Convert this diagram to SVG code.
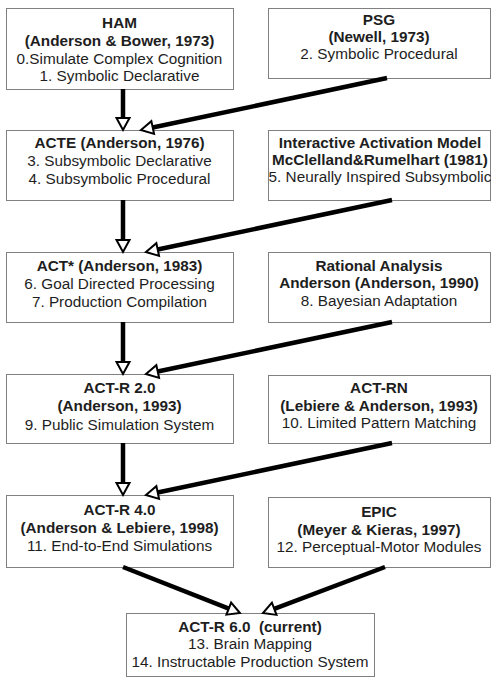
<svg xmlns="http://www.w3.org/2000/svg" width="491" height="678" viewBox="0 0 491 678">
<style>
.box{fill:#fff;stroke:#808080;stroke-width:1}
text{font-family:"Liberation Sans",Arial,sans-serif;font-size:15.3px;fill:#1e1e1e;text-anchor:middle}
.b{font-weight:bold}
.c{fill:none;stroke:#000;stroke-width:4.5}
</style>
<defs>
<marker id="ah" markerUnits="userSpaceOnUse" viewBox="-1 -8 15 16" markerWidth="15" markerHeight="16" refX="0" refY="0" orient="auto" overflow="visible">
<path d="M0,-6.5 L12,0 L0,6.5 Z" fill="#fff" stroke="#000" stroke-width="2" stroke-linejoin="miter"/>
</marker>
</defs>
<rect width="491" height="678" fill="#fff"/>
<g id="ham"><rect class="box" x="6.5" y="8.5" width="227" height="81"/>
<text x="119.5" y="28" class="b">HAM</text><text x="119.5" y="46" class="b">(Anderson &amp; Bower, 1973)</text><text x="119.5" y="64">0.Simulate Complex Cognition</text><text x="119.5" y="81">1. Symbolic Declarative</text></g>
<g id="psg"><rect class="box" x="268.5" y="8.5" width="222" height="70"/>
<text x="379" y="25" class="b">PSG</text><text x="379" y="42" class="b">(Newell, 1973)</text><text x="379" y="59">2. Symbolic Procedural</text></g>
<g id="acte"><rect class="box" x="6.5" y="130.5" width="227" height="70"/>
<text x="119.5" y="148" class="b">ACTE (Anderson, 1976)</text><text x="119.5" y="166">3. Subsymbolic Declarative</text><text x="119.5" y="184">4. Subsymbolic Procedural</text></g>
<g id="iam"><rect class="box" x="268.5" y="130.5" width="222" height="70"/>
<text x="380" y="148" class="b">Interactive Activation Model</text><text x="380" y="165" class="b">McClelland&amp;Rumelhart (1981)</text><text x="380" y="182">5. Neurally Inspired Subsymbolic</text></g>
<g id="actstar"><rect class="box" x="6.5" y="252.5" width="227" height="70"/>
<text x="119.5" y="271" class="b">ACT* (Anderson, 1983)</text><text x="119.5" y="289">6. Goal Directed Processing</text><text x="119.5" y="307">7. Production Compilation</text></g>
<g id="rational"><rect class="box" x="268.5" y="252.5" width="222" height="70"/>
<text x="379" y="271" class="b">Rational Analysis</text><text x="379" y="288" class="b">Anderson (Anderson, 1990)</text><text x="379" y="306">8. Bayesian Adaptation</text></g>
<g id="actr2"><rect class="box" x="6.5" y="374.5" width="227" height="69"/>
<text x="119.5" y="393" class="b">ACT-R 2.0</text><text x="119.5" y="411" class="b">(Anderson, 1993)</text><text x="119.5" y="430">9. Public Simulation System</text></g>
<g id="actrn"><rect class="box" x="268.5" y="375.5" width="222" height="68"/>
<text x="379" y="393" class="b">ACT-RN</text><text x="379" y="411" class="b">(Lebiere &amp; Anderson, 1993)</text><text x="379" y="428">10. Limited Pattern Matching</text></g>
<g id="actr4"><rect class="box" x="6.5" y="495.5" width="227" height="72"/>
<text x="119.5" y="515" class="b">ACT-R 4.0</text><text x="119.5" y="533" class="b">(Anderson &amp; Lebiere, 1998)</text><text x="119.5" y="551">11. End-to-End Simulations</text></g>
<g id="epic"><rect class="box" x="268.5" y="497.5" width="222" height="70"/>
<text x="379" y="517" class="b">EPIC</text><text x="379" y="535" class="b">(Meyer &amp; Kieras, 1997)</text><text x="379" y="552">12. Perceptual-Motor Modules</text></g>
<g id="actr6"><rect class="box" x="126.5" y="613.5" width="248" height="63"/>
<text x="250" y="632" class="b">ACT-R 6.0&#160; (current)</text><text x="250" y="649">13. Brain Mapping</text><text x="250" y="667">14. Instructable Production System</text></g>
<g id="connectors">
<line class="c" x1="123" y1="89" x2="123" y2="118" marker-end="url(#ah)"/>
<line class="c" x1="387" y1="78" x2="152.7" y2="127.5" marker-end="url(#ah)"/>
<line class="c" x1="123" y1="200" x2="123" y2="240" marker-end="url(#ah)"/>
<line class="c" x1="392" y1="200" x2="157.7" y2="249.5" marker-end="url(#ah)"/>
<line class="c" x1="123" y1="322" x2="123" y2="362" marker-end="url(#ah)"/>
<line class="c" x1="392" y1="322" x2="157.7" y2="371.5" marker-end="url(#ah)"/>
<line class="c" x1="123" y1="443" x2="123" y2="483" marker-end="url(#ah)"/>
<line class="c" x1="392" y1="443" x2="157.7" y2="492.5" marker-end="url(#ah)"/>
<line class="c" x1="123" y1="567" x2="228.8" y2="608.6" marker-end="url(#ah)"/>
<line class="c" x1="385" y1="567" x2="274.2" y2="608.8" marker-end="url(#ah)"/>
</g>
</svg>
